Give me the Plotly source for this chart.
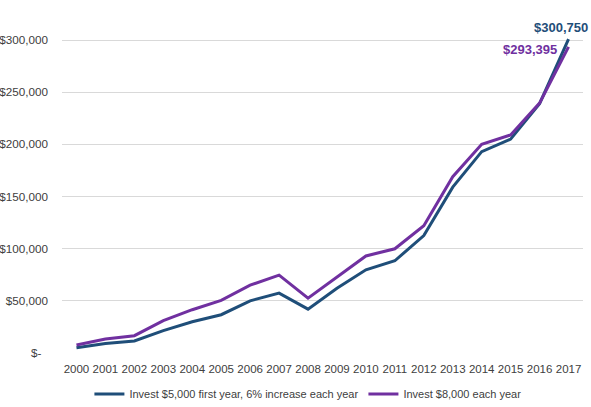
import plotly.graph_objects as go

years = [str(y) for y in range(2000, 2018)]
invest_growing = [5000, 9000, 11500, 21500, 30000, 36700, 50000, 57400, 42000, 62000,
                  79800, 88400, 112600, 159000, 193000, 205000, 239000, 300750]
invest_flat = [7700, 13400, 16600, 31000, 41500, 50400, 65000, 74700, 52600, 72800,
               93000, 99900, 122000, 169000, 200000, 209000, 239500, 293395]
ytick_vals = [0, 50000, 100000, 150000, 200000, 250000, 300000]
ytick_text = ["$-\u00a0\u00a0", "$50,000", "$100,000", "$150,000", "$200,000", "$250,000", "$300,000"]

blue = "#1F4E79"
purple = "#7030A0"

fig = go.Figure()
fig.add_trace(go.Scatter(x=years, y=invest_growing, mode="lines",
                         name="Invest $5,000 first year, 6% increase each year",
                         line=dict(color=blue, width=3)))
fig.add_trace(go.Scatter(x=years, y=invest_flat, mode="lines",
                         name="Invest $8,000 each year",
                         line=dict(color=purple, width=3)))

last = len(years) - 1
fig.add_annotation(x=last, y=invest_growing[-1], text="<b>$300,750</b>",
                   showarrow=False, xanchor="right", yanchor="bottom",
                   xshift=21, yshift=2, font=dict(color=blue, size=13))
fig.add_annotation(x=last, y=invest_flat[-1], text="<b>$293,395</b>",
                   showarrow=False, xanchor="right", yanchor="middle",
                   xshift=-10, yshift=-3, font=dict(color=purple, size=13))

fig.update_layout(
    width=591, height=407,
    margin=dict(l=62, r=8, t=30, b=54, autoexpand=False),
    paper_bgcolor="white", plot_bgcolor="white",
    font=dict(family="Liberation Sans, Arial, sans-serif", size=12, color="#404040"),
    showlegend=True,
    legend=dict(orientation="h", x=0.521, xanchor="center", xref="container",
                y=13 / 407, yanchor="middle", yref="container",
                font=dict(size=11, color="#404040"), itemwidth=30),
    xaxis=dict(type="category", range=[-0.5, last + 0.5], showgrid=False,
               showline=False, zeroline=False, ticks="", tickfont=dict(size=11.5),
               automargin=False, ticklabelstandoff=7),
    yaxis=dict(range=[0, 309600], tickvals=ytick_vals, ticktext=ytick_text,
               showgrid=True, gridcolor="#D9D9D9", gridwidth=1, zeroline=False,
               showline=False, ticks="", automargin=False, ticklabelstandoff=13,
               tickfont=dict(size=11.7)),
)

fig.write_html("out.html", config={"displayModeBar": False},
               post_script="document.body.style.margin='0';document.body.style.overflow='hidden';")
